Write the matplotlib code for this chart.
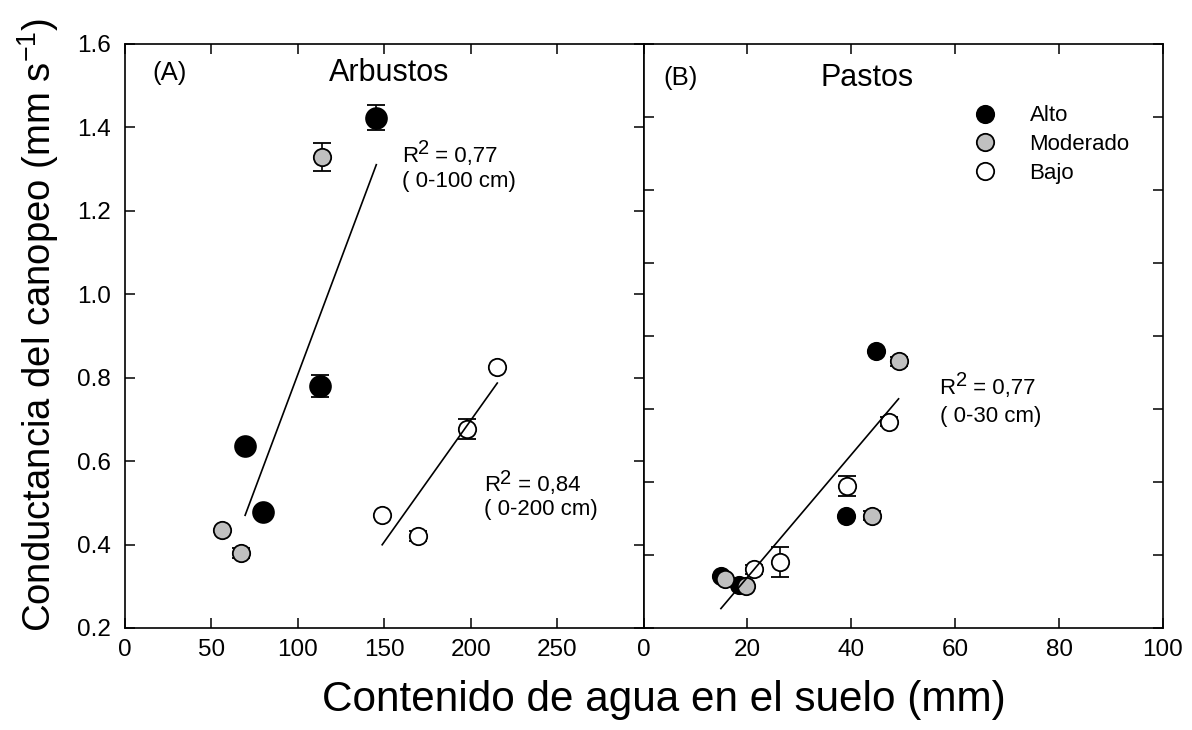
import numpy as np
import matplotlib
matplotlib.use("Agg")
import matplotlib.pyplot as plt
from matplotlib.lines import Line2D

plt.rcParams["font.family"] = ["Liberation Sans", "DejaVu Sans"]
plt.rcParams["mathtext.fontset"] = "custom"
plt.rcParams["mathtext.rm"] = "Liberation Sans"
plt.rcParams["mathtext.default"] = "regular"

# (A) Arbustos: contenido de agua (mm) vs conductancia (mm s-1)
arb_alto_x = [145.4, 112.9, 69.5, 79.9]
arb_alto_y = [1.423, 0.780, 0.636, 0.478]
arb_alto_err = [0.030, 0.026, 0.0, 0.012]

arb_mod_x = [114.1, 56.2, 67.2]
arb_mod_y = [1.329, 0.435, 0.380]
arb_mod_err = [0.034, 0.0, 0.012]

arb_bajo_x = [148.8, 169.8, 198.1, 215.4]
arb_bajo_y = [0.471, 0.421, 0.677, 0.826]
arb_bajo_err = [0.0, 0.012, 0.024, 0.0]

# (B) Pastos
pas_alto_x = [44.8, 39.0, 14.9, 18.3]
pas_alto_y = [0.960, 0.508, 0.342, 0.318]
pas_alto_err = [0.0, 0.0, 0.0, 0.0]

pas_mod_x = [49.1, 44.0, 15.6, 19.7]
pas_mod_y = [0.931, 0.508, 0.333, 0.315]
pas_mod_err = [0.012, 0.012, 0.0, 0.0]

pas_bajo_x = [47.2, 39.2, 26.2, 21.3]
pas_bajo_y = [0.765, 0.590, 0.382, 0.361]
pas_bajo_err = [0.012, 0.027, 0.041, 0.012]

# recta de ajuste en pastos (pendiente, ordenada)
recta_pastos = (0.0168, 0.003)

niveles = ["Alto", "Moderado", "Bajo"]
colores = ["black", "#c0c0c0", "white"]


def puntos(ax, x, y, err, color, size):
    ax.errorbar(
        x, y, yerr=err,
        fmt="o",
        color="black",
        mfc=color,
        mec="black",
        mew=1.3,
        ms=size,
        ecolor="black",
        elinewidth=1.2,
        capsize=6.3,
        capthick=1.2,
        zorder=3,
    )


def recta(ax, x, pendiente, ordenada):
    xs = np.array([min(x), max(x)])
    ax.plot(xs, pendiente * xs + ordenada, color="black", lw=1.2, zorder=4)


def etiqueta_r2(ax, x, y1, y2, valor, prof):
    # R con el 2 casi del mismo tamaño, elevado
    r = ax.text(x, y1, "R", fontsize=16, va="baseline", ha="left")
    dos = ax.annotate("2", xy=(1, 0.41), xycoords=r,
                      fontsize=14.5, va="bottom", ha="left")
    ax.annotate(" = " + valor, xy=(1, 0), xycoords=(dos, r),
                fontsize=16, va="bottom", ha="left")
    ax.text(x, y2, "( " + prof + ")", fontsize=16, va="baseline", ha="left")


fig = plt.figure(figsize=(11.92, 7.30), dpi=100)

ax1 = fig.add_axes([125 / 1192, 1 - 628 / 730, 518.5 / 1192, 584 / 730])
ax2 = fig.add_axes([643.5 / 1192, 1 - 628 / 730, 519.5 / 1192, 584 / 730])

# panel A
puntos(ax1, arb_alto_x, arb_alto_y, arb_alto_err, colores[0], 15)
puntos(ax1, arb_mod_x, arb_mod_y, arb_mod_err, colores[1], 12.5)
puntos(ax1, arb_bajo_x, arb_bajo_y, arb_bajo_err, colores[2], 12.5)

p_alto = np.polyfit(arb_alto_x, arb_alto_y, 1)
p_bajo = np.polyfit(arb_bajo_x, arb_bajo_y, 1)
recta(ax1, arb_alto_x, p_alto[0], p_alto[1])
recta(ax1, arb_bajo_x, p_bajo[0], p_bajo[1])

ax1.set_xlim(0, 300)
ax1.set_ylim(0.2, 1.6)
ax1.set_xticks(np.arange(0, 300, 50))
ax1.set_yticks(np.arange(0.2, 1.61, 0.2))
ax1.set_yticklabels([f"{v:.1f}" for v in np.arange(0.2, 1.61, 0.2)])

ax1.text(15.6, 1.53, "(A)", fontsize=18.5, va="center", ha="left")
ax1.text(118, 1.53, "Arbustos", fontsize=22, va="center", ha="left")
etiqueta_r2(ax1, 160.1, 1.317, 1.257, "0,77", "0-100 cm")
etiqueta_r2(ax1, 207.9, 0.528, 0.471, "0,84", "0-200 cm")

# panel B
puntos(ax2, pas_alto_x, pas_alto_y, pas_alto_err, colores[0], 12.5)
puntos(ax2, pas_mod_x, pas_mod_y, pas_mod_err, colores[1], 12.5)
puntos(ax2, pas_bajo_x, pas_bajo_y, pas_bajo_err, colores[2], 12.5)

todos_x = pas_alto_x + pas_mod_x + pas_bajo_x
recta(ax2, todos_x, recta_pastos[0], recta_pastos[1])

ax2.set_xlim(0, 100)
ax2.set_ylim(0.2, 1.8)
ax2.set_xticks(np.arange(0, 101, 20))
ax2.set_yticks(np.arange(0.2, 1.81, 0.2))
ax2.set_yticklabels([])

ax2.text(3.85, 1.707, "(B)", fontsize=18.5, va="center", ha="left")
ax2.text(34.1, 1.707, "Pastos", fontsize=22, va="center", ha="left")
etiqueta_r2(ax2, 57.0, 0.841, 0.764, "0,77", "0-30 cm")

handles = [
    Line2D([], [], ls="none", marker="o", ms=12.5, mfc=c, mec="black", mew=1.3)
    for c in colores
]
ax2.legend(
    handles, niveles,
    loc="upper left",
    bbox_to_anchor=(0.636, 0.895),
    frameon=False,
    fontsize=16,
    handlelength=1.0,
    handletextpad=1.5,
    labelspacing=0.35,
    borderpad=0,
    borderaxespad=0,
)

for ax in (ax1, ax2):
    ax.tick_params(
        direction="in",
        top=True,
        right=True,
        length=7,
        width=1.1,
        labelsize=17.5,
        pad=8,
    )
    ax.tick_params(axis="y", pad=10)
    for s in ax.spines.values():
        s.set_linewidth(1.2)

fig.text(38 / 1192, 1 - 325 / 730, "Conductancia del canopeo (mm s$^{-1}$)",
         rotation=90, ha="center", va="center", fontsize=27.5)
fig.text(664 / 1192, 1 - 700 / 730, "Contenido de agua en el suelo (mm)",
         ha="center", va="center", fontsize=30.4)

fig.savefig("out.png", dpi=100)
